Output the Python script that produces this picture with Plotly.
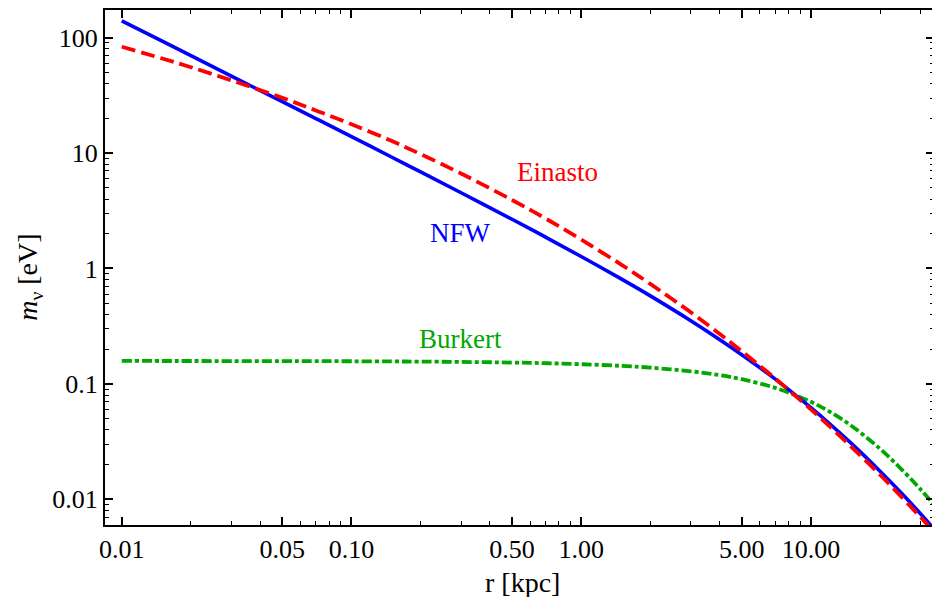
import numpy as np
import plotly.graph_objects as go

# radius grid [kpc]
r_kpc = [0.01, 0.015, 0.02, 0.03, 0.05, 0.07, 0.1, 0.15, 0.2, 0.3, 0.5, 0.7,
         1, 1.5, 2, 3, 4, 5, 7, 10, 12, 15, 20, 25, 30, 35]

# m_nu [eV]
m_nfw = [140, 93.2, 69.9, 46.5, 27.9, 19.9, 13.9, 9.2, 6.86, 4.53, 2.67, 1.87,
         1.27, 0.808, 0.579, 0.353, 0.243, 0.179, 0.110, 0.0622, 0.0456, 0.0305,
         0.0175, 0.0111, 0.0075, 0.0053]
m_einasto = [83.5, 66.0, 55.5, 42.7, 30.1, 23.4, 17.8, 12.7, 9.8, 6.65, 3.92, 2.71,
             1.78, 1.075, 0.735, 0.417, 0.272, 0.192, 0.111, 0.0601, 0.0433, 0.0285,
             0.0163, 0.0103, 0.0070, 0.0050]
m_burkert = [0.158, 0.1579, 0.1578, 0.1577, 0.1575, 0.1574, 0.157, 0.1565, 0.156,
             0.155, 0.153, 0.1511, 0.148, 0.1432, 0.1383, 0.1285, 0.119, 0.1097,
             0.0923, 0.0699, 0.0578, 0.0434, 0.0274, 0.0179, 0.0122, 0.0086]

x_tickvals = [0.01, 0.05, 0.1, 0.5, 1, 5, 10]
x_ticktext = ["0.01", "0.05", "0.10", "0.50", "1.00", "5.00", "10.00"]
x_minor = [0.02, 0.03, 0.04, 0.06, 0.07, 0.08, 0.09,
           0.2, 0.3, 0.4, 0.6, 0.7, 0.8, 0.9,
           2, 3, 4, 6, 7, 8, 9, 20, 30]
y_tickvals = [0.01, 0.1, 1, 10, 100]
y_ticktext = ["0.01", "0.1", "1", "10", "100"]
y_minor = [m * 10.0 ** e for e in range(-3, 3) for m in range(2, 10)]

labels = [("Einasto", 0.79, 6.85, "#ff0000"),
          ("NFW", 0.297, 2.02, "#0000ff"),
          ("Burkert", 0.297, 0.244, "#00a800")]

FONT = "Liberation Serif"

fig = go.Figure()
fig.add_trace(go.Scatter(x=r_kpc, y=m_burkert, mode="lines", line_shape="spline",
                         line=dict(color="#00a800", width=3.8, dash="10px,3px,4px,3px")))
fig.add_trace(go.Scatter(x=r_kpc, y=m_nfw, mode="lines", line_shape="spline",
                         line=dict(color="#0000ff", width=3.6)))
fig.add_trace(go.Scatter(x=r_kpc, y=m_einasto, mode="lines", line_shape="spline",
                         line=dict(color="#ff0000", width=3.8, dash="14px,6px")))

for text, x, y, c in labels:
    fig.add_annotation(x=np.log10(x), y=np.log10(y), text=text, showarrow=False,
                       xref="x", yref="y", xanchor="center", yanchor="middle",
                       font=dict(family=FONT, size=27, color=c))

# paper coords relative to plot area 105..934 (x) and 10..525 (y)
fig.add_annotation(x=(522 - 105) / 829, y=-0.111, xref="paper", yref="paper", text="r [kpc]",
                   showarrow=False, xanchor="center", yanchor="middle",
                   font=dict(family=FONT, size=28, color="black"))
fig.add_annotation(x=(30 - 105) / 829, y=0.48, xref="paper", yref="paper",
                   text="<i>m</i><sub>ν</sub> [eV]", textangle=-90,
                   showarrow=False, xanchor="center", yanchor="middle",
                   font=dict(family=FONT, size=28, color="black"))

axis_common = dict(
    type="log", showgrid=False, zeroline=False, automargin=False,
    showline=True, linecolor="black", linewidth=2, mirror="ticks",
    ticks="inside", ticklen=8, tickwidth=1.5, tickcolor="black",
    tickfont=dict(family=FONT, size=26, color="black"),
)

fig.update_xaxes(**axis_common, range=[-2.073, 1.536],
                 tickmode="array", tickvals=x_tickvals, ticktext=x_ticktext,
                 minor=dict(tickmode="array", tickvals=x_minor, ticks="inside",
                            ticklen=4, tickwidth=1, tickcolor="black"))
fig.update_yaxes(**axis_common, range=[-2.223, 2.240],
                 tickmode="array", tickvals=y_tickvals, ticktext=y_ticktext,
                 minor=dict(tickmode="array", tickvals=y_minor, ticks="inside",
                            ticklen=4, tickwidth=1, tickcolor="black"))

fig.update_layout(
    width=934, height=597,
    margin=dict(l=105, r=0, t=10, b=72, autoexpand=False),
    paper_bgcolor="white", plot_bgcolor="white",
    showlegend=False,
)

fig.write_html("out.html", config={"displayModeBar": False},
               post_script="document.body.style.margin='0';document.body.style.overflow='hidden';")
